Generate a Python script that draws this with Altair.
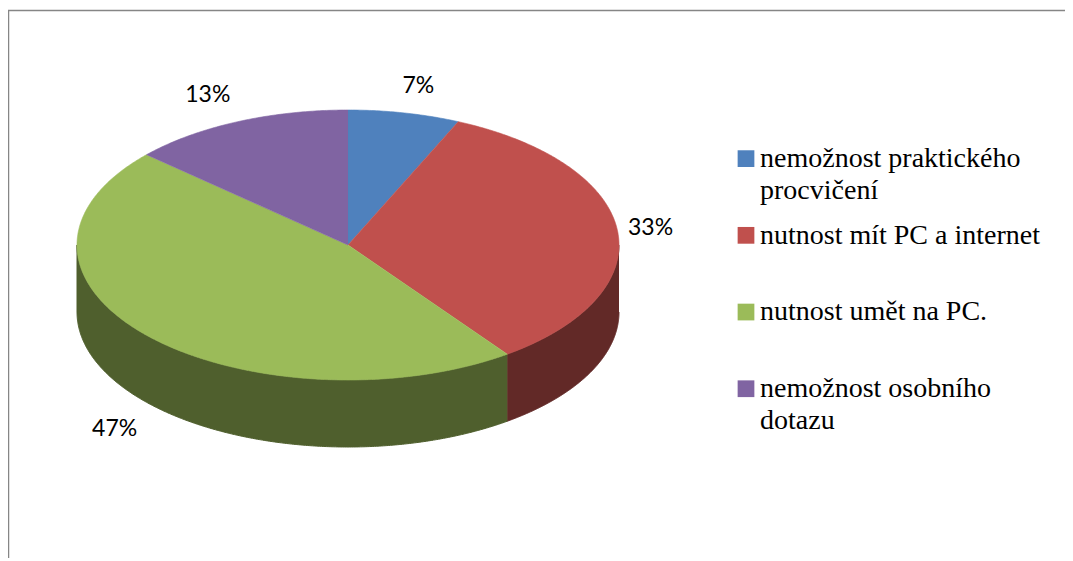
import math
import altair as alt
import pandas as pd

CATEGORIES = ["nemožnost praktického\nprocvičení", "nutnost mít PC a internet",
              "nutnost umět na PC.", "nemožnost osobního\ndotazu"]
COUNTS = [1, 5, 7, 2]
PERCENT_LABELS = ["7%", "33%", "47%", "13%"]
TOP_COLORS = ["#4F81BD", "#C0504D", "#9BBB59", "#8064A2"]
SIDE_COLORS = ["#2A4564", "#622927", "#4F5F2D", "#43345A"]

W, H = 1057, 550
CX, CY, RX, RY, DEPTH = 340, 237, 271, 135, 67
LABEL_EXTRA = [(14, -27), (33, -3), (-32, 94), (-30, -27)]


def pt(deg, dy=0.0):
    a = math.radians(deg)
    return CX + RX * math.sin(a), CY - RY * math.cos(a) + dy


total = sum(COUNTS)
tops, sides, labels = [], [], []
start = 0.0
for name, n, pct, side, extra in zip(CATEGORIES, COUNTS, PERCENT_LABELS, SIDE_COLORS, LABEL_EXTRA):
    end = start + 360.0 * n / total
    steps = max(2, int((end - start) * 2))
    arc = [start + (end - start) * i / steps for i in range(steps + 1)]
    poly = [(CX, CY)] + [pt(t) for t in arc]
    for i, (x, y) in enumerate(poly):
        tops.append({"cat": name, "x": x, "y": y, "o": i})
    lo, hi = max(start, 90.0), min(end, 270.0)
    if hi > lo:
        vis = [lo + (hi - lo) * i / steps for i in range(steps + 1)]
        ring = [pt(t) for t in vis] + [pt(t, DEPTH) for t in reversed(vis)]
        for i, (x, y) in enumerate(ring):
            sides.append({"cat": name, "side": side, "x": x, "y": y, "o": i})
    mx, my = pt((start + end) / 2)
    labels.append({"x": mx + extra[0], "y": my + extra[1], "t": pct})
    start = end

xs = alt.Scale(domain=[0, W], range=[0, W], nice=False, zero=False)
ys = alt.Scale(domain=[0, H], range=[0, H], nice=False, zero=False)
X = alt.X("x:Q", scale=xs, axis=None)
Y = alt.Y("y:Q", scale=ys, axis=None)
cscale = alt.Scale(domain=CATEGORIES, range=TOP_COLORS)

side_layer = alt.Chart(pd.DataFrame(sides)).mark_line(strokeWidth=1, interpolate="linear").encode(
    x=X, y=Y, order="o:Q", detail="cat:N",
    fill=alt.Fill("side:N", scale=None), stroke=alt.Stroke("side:N", scale=None))

legend = alt.Legend(
    title=None, orient="none", legendX=724, legendY=145, direction="vertical", columns=1,
    gridAlign="all", symbolType="M-1,-2H1V0H-1Z", symbolSize=280, symbolStrokeWidth=0,
    labelFont="Liberation Serif", labelFontSize=28, labelColor="#000000", labelLimit=400,
    labelBaseline="alphabetic", labelOffset=0, rowPadding=16.7, padding=0,
    symbolOpacity=1, labelExpr="split(datum.label, '\\n')")

top_layer = alt.Chart(pd.DataFrame(tops)).mark_line(strokeWidth=0.6, interpolate="linear").encode(
    x=X, y=Y, order="o:Q",
    fill=alt.Fill("cat:N", scale=cscale, sort=CATEGORIES, legend=legend),
    stroke=alt.Stroke("cat:N", scale=cscale, sort=CATEGORIES, legend=None))

text_layer = alt.Chart(pd.DataFrame(labels)).mark_text(
    font="Lato", fontSize=23, color="#000000", align="center", baseline="middle").encode(
    x=X, y=Y, text="t:N")

frame_top = alt.Chart(pd.DataFrame({"a": [0]})).mark_rule(color="#868686", strokeWidth=1.5).encode(
    x=alt.value(0), x2=alt.value(W), y=alt.value(2.5))
frame_left = alt.Chart(pd.DataFrame({"a": [0]})).mark_rule(color="#868686", strokeWidth=1.5).encode(
    x=alt.value(0.5), y=alt.value(2.5), y2=alt.value(H))

chart = alt.layer(frame_top, frame_left, side_layer, top_layer, text_layer).properties(
    width=W, height=H, padding=0, background="white",
    autosize=alt.AutoSizeParams(type="none"),
    config=alt.Config(view=alt.ViewConfig(stroke=None),
                      style={"guide-label": {"lineHeight": 32}})
)

chart.save("out.html", embed_options={"renderer": "svg", "actions": False})
